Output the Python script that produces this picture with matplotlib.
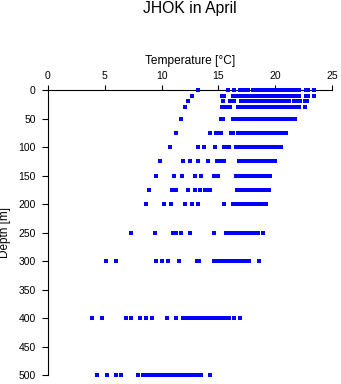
import matplotlib.pyplot as plt

plt.rcParams['font.family'] = ['Liberation Sans', 'DejaVu Sans']

# Temperature readings (deg C) at each sampled depth
temp_0m = [13.2, 15.8, 16.4, 16.9, 17.2, 17.4, 17.6, 18.0, 18.2, 18.4, 18.6, 18.8, 19.0, 19.2,
           19.4, 19.6, 19.8, 20.0, 20.2, 20.4, 20.6, 20.8, 21.0, 21.3, 21.5, 21.7, 21.9, 22.1,
           22.7, 22.9, 23.4]
temp_10m = [12.7, 15.3, 15.5, 16.3, 16.5, 16.7, 17.1, 17.3, 17.5, 17.7, 17.9, 18.1, 18.3, 18.5,
            18.7, 18.9, 19.1, 19.3, 19.5, 19.7, 19.9, 20.1, 20.3, 20.5, 20.7, 20.9, 21.3, 21.5,
            21.7, 21.9, 22.1, 22.7, 22.9, 23.4]
temp_20m = [12.3, 15.4, 16.0, 16.2, 16.4, 17.0, 17.2, 17.4, 17.6, 17.8, 18.0, 18.2, 18.4, 18.6,
            18.8, 19.0, 19.2, 19.4, 19.6, 19.8, 20.0, 20.2, 20.4, 20.6, 20.8, 21.0, 21.2, 21.6,
            21.8, 22.0, 22.2, 22.6, 22.8]
temp_30m = [12.1, 15.3, 15.6, 15.8, 16.0, 16.7, 16.9, 17.1, 17.3, 17.5, 17.7, 17.9, 18.1, 18.3,
            18.5, 18.7, 18.9, 19.1, 19.3, 19.5, 19.7, 19.9, 20.1, 20.3, 20.5, 20.7, 20.9, 21.1,
            21.3, 21.5, 21.7, 21.9, 22.1, 22.6]
temp_50m = [11.7, 15.2, 15.4, 16.3, 16.5, 16.7, 17.0, 17.2, 17.4, 17.6, 17.8, 18.0, 18.2, 18.4,
            18.6, 18.8, 19.0, 19.2, 19.4, 19.6, 19.8, 20.0, 20.2, 20.4, 20.6, 20.8, 21.0, 21.2,
            21.4, 21.7]
temp_75m = [11.3, 14.3, 14.8, 15.0, 15.2, 16.1, 16.3, 16.7, 16.9, 17.1, 17.3, 17.5, 17.7, 17.9,
            18.1, 18.3, 18.5, 18.7, 18.9, 19.1, 19.3, 19.5, 19.7, 19.9, 20.1, 20.3, 20.5, 20.7,
            20.9]
temp_100m = [10.7, 13.2, 13.7, 14.7, 15.5, 15.7, 15.9, 16.5, 16.9, 17.1, 17.3, 17.5, 17.7, 17.9,
             18.1, 18.3, 18.5, 18.7, 18.9, 19.1, 19.3, 19.5, 19.7, 19.9, 20.1, 20.3, 20.5]
temp_125m = [9.9, 11.9, 12.5, 13.2, 14.1, 14.9, 15.1, 15.5, 16.8, 17.0, 17.2, 17.4, 17.6, 17.8,
             18.0, 18.2, 18.4, 18.6, 18.8, 19.0, 19.2, 19.4, 19.6, 19.8, 20.0]
temp_150m = [9.5, 11.1, 11.8, 12.9, 13.5, 14.6, 15.0, 16.5, 16.8, 17.0, 17.2, 17.4, 17.6, 17.8,
             18.0, 18.2, 18.4, 18.6, 18.8, 19.0, 19.2, 19.5]
temp_175m = [8.9, 10.9, 11.3, 12.3, 12.9, 13.4, 13.8, 14.0, 14.3, 16.6, 16.8, 17.0, 17.2, 17.4,
             17.6, 17.8, 18.0, 18.2, 18.4, 18.6, 18.8, 19.0, 19.2, 19.4]
temp_200m = [8.6, 10.2, 10.8, 12.1, 12.7, 13.2, 15.5, 16.3, 16.5, 16.7, 16.9, 17.1, 17.3, 17.5,
             17.7, 17.9, 18.1, 18.3, 18.5, 18.7, 18.9, 19.2]
temp_250m = [7.3, 9.4, 11.0, 11.3, 11.7, 12.5, 14.6, 15.7, 15.9, 16.1, 16.3, 16.5, 16.7, 16.9,
             17.1, 17.3, 17.5, 17.7, 17.9, 18.1, 18.3, 18.5, 18.9]
temp_300m = [5.1, 6.0, 9.5, 10.0, 10.6, 11.5, 13.1, 13.3, 14.6, 14.9, 15.1, 15.3, 15.5, 15.7,
             15.9, 16.1, 16.3, 16.5, 16.7, 16.9, 17.1, 17.3, 17.5, 17.7, 18.6]
temp_400m = [3.9, 4.8, 6.9, 7.3, 8.1, 8.6, 9.2, 10.5, 11.3, 11.9, 12.1, 12.3, 12.5, 12.7, 12.9,
             13.1, 13.3, 13.5, 13.7, 13.9, 14.1, 14.3, 14.5, 14.7, 14.9, 15.1, 15.3, 15.5, 15.7,
             15.9, 16.4, 16.9]
temp_500m = [4.3, 5.2, 6.0, 6.4, 7.9, 8.4, 8.7, 9.0, 9.2, 9.4, 9.6, 9.8, 10.0, 10.2, 10.4, 10.6,
             10.8, 11.0, 11.2, 11.4, 11.6, 11.8, 12.0, 12.2, 12.4, 12.6, 12.8, 13.0, 13.2, 13.5,
             14.3]

depths = [0, 10, 20, 30, 50, 75, 100, 125, 150, 175, 200, 250, 300, 400, 500]
profiles = [temp_0m, temp_10m, temp_20m, temp_30m, temp_50m, temp_75m, temp_100m, temp_125m,
            temp_150m, temp_175m, temp_200m, temp_250m, temp_300m, temp_400m, temp_500m]

x_ticks = [0, 5, 10, 15, 20, 25]
y_ticks = [0, 50, 100, 150, 200, 250, 300, 350, 400, 450, 500]

fig = plt.figure(figsize=(3.41, 3.84), dpi=100)
ax = fig.add_axes([47.7 / 341, 1 - 375.3 / 384, 284.6 / 341, 285.3 / 384])

for depth, temps in zip(depths, profiles):
    ax.plot(temps, [depth] * len(temps), linestyle='none', marker='s', markersize=2.3,
            markeredgewidth=0, color='#0000ff', clip_on=False, zorder=3)

ax.set_xlim(0, 25)
ax.set_ylim(500, 0)
ax.set_xticks(x_ticks)
ax.set_yticks(y_ticks)

# temperature axis on top, depth axis on the left
ax.xaxis.tick_top()
ax.xaxis.set_label_position('top')
for side in ['right', 'bottom']:
    ax.spines[side].set_visible(False)
for side in ['top', 'left']:
    ax.spines[side].set_linewidth(0.8)
ax.tick_params(axis='x', direction='out', length=3.8, width=0.8, pad=3, labelsize=7.5)
ax.tick_params(axis='y', direction='out', length=4.2, width=0.8, pad=4.5, labelsize=7.5)

ax.set_xlabel('Temperature [°C]', fontsize=8.6, va='center')
ax.xaxis.set_label_coords(0.5, 1 + (90 - 60.7) / 285.3)
ax.set_ylabel('Depth [m]', fontsize=8.5, va='center')
ax.yaxis.set_label_coords(-(47.7 - 5) / 284.6, 0.5)

fig.text(190 / 341, 1 - 8 / 384, 'JHOK in April', fontsize=11.3, ha='center', va='center')

fig.savefig('out.png', dpi=100)
